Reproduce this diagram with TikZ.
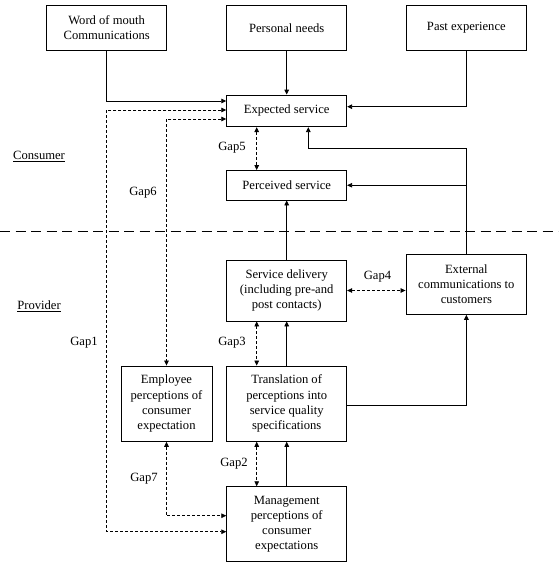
\documentclass[tikz,border=0pt]{standalone}
\usepackage{fontspec}
\setmainfont{Liberation Serif}
\usetikzlibrary{arrows.meta,calc}
\begin{document}
\begin{tikzpicture}[x=1pt,y=-1pt,
  txt/.style={font=\fontsize{12.6}{15.2}\selectfont},
  box/.style={draw,line width=0.9pt,inner sep=0pt,align=center,txt},
  lbl/.style={inner sep=0pt,txt},
  tip/.tip={Triangle[length=5pt,width=4.6pt]},
  conn/.style={line width=0.9pt,-tip},
  gap/.style={line width=0.8pt,dash pattern=on 3pt off 2pt,tip-tip},
]
\useasboundingbox (0,0) rectangle (558,565);

% boxes
\node[box,minimum width=120pt,minimum height=45.7pt] (wom) at (106.7,27.85) {Word of mouth\\Communications};
\node[box,minimum width=120pt,minimum height=45.7pt] (pn) at (286.7,27.85) {Personal needs};
\node[box,minimum width=120.7pt,minimum height=45.7pt] (pe) at (466.35,27.85) {Past experience};
\node[box,minimum width=120pt,minimum height=31.7pt] (exp) at (286.7,110.85) {Expected service};
\node[box,minimum width=120pt,minimum height=29.5pt] (perc) at (286.7,185.25) {Perceived service};
\node[box,minimum width=120pt,minimum height=61pt] (sd) at (286.7,290.5) {Service delivery\\(including pre-and\\post contacts)};
\node[box,minimum width=120.7pt,minimum height=60pt] (ext) at (466.35,284.3) {External\\communications to\\customers};
\node[box,minimum width=91pt,minimum height=75.3pt] (emp) at (166.5,403.65) {Employee\\perceptions of\\consumer\\expectation};
\node[box,minimum width=120pt,minimum height=75.3pt] (trans) at (286.7,403.65) {Translation of\\perceptions into\\service quality\\specifications};
\node[box,minimum width=120pt,minimum height=75pt] (mgmt) at (286.7,524.2) {Management\\perceptions of\\consumer\\expectations};

% labels
\node[lbl] (consumer) at (39,156.7) {\underline{Consumer}};
\node[lbl] (provider) at (39,306) {\underline{Provider}};
\node[lbl] (gap1) at (84,343) {Gap1};
\node[lbl] (gap2) at (234,464) {Gap2};
\node[lbl] (gap3) at (232,343) {Gap3};
\node[lbl] (gap4) at (377.5,276.5) {Gap4};
\node[lbl] (gap5) at (232,148) {Gap5};
\node[lbl] (gap6) at (143,193) {Gap6};
\node[lbl] (gap7) at (144,478.3) {Gap7};

% divider
\coordinate (dl) at (0,231.5);
\coordinate (dr) at (558,231.5);
\draw[line width=0.9pt,dash pattern=on 10pt off 5.5pt] (dl) -- (dr);

% solid connectors
\draw[conn] (wom.south) |- ([yshift=9.85pt]exp.west);
\draw[conn] (pn.south) -- (exp.north);
\draw[conn] (pe.south) |- ([yshift=4.15pt]exp.east);
\coordinate (j1) at (466.35,148.3);
\draw[conn] (ext.north) -- (j1) -| ([xshift=21.6pt]exp.south);
\draw[conn] (perc.east -| j1) -- (perc.east);
\draw[conn] (sd.north) -- (perc.south);
\draw[conn] (trans.north) -- (sd.south);
\draw[conn] ([yshift=-1.35pt]trans.east) -| (ext.south);
\draw[conn] (mgmt.north) -- (trans.south);

% gaps
\coordinate (g1a) at (106.7,110);
\coordinate (g1b) at (106.7,531.7);
\draw[gap] ([yshift=0.85pt]exp.west) -- (g1a) -- (g1b) -- (g1b -| mgmt.west);
\draw[gap] ([yshift=-8.15pt]exp.west) -| (emp.north);
\draw[gap] ([xshift=-30pt]exp.south) -- ([xshift=-30pt]perc.north);
\draw[gap] (sd.east) -- (sd.east -| ext.west);
\draw[gap] ([xshift=-30pt]sd.south) -- ([xshift=-30pt]trans.north);
\draw[gap] ([xshift=-30pt]trans.south) -- ([xshift=-30pt]mgmt.north);
\draw[gap] (emp.south) |- ([yshift=8.5pt]mgmt.west);
\end{tikzpicture}
\end{document}
